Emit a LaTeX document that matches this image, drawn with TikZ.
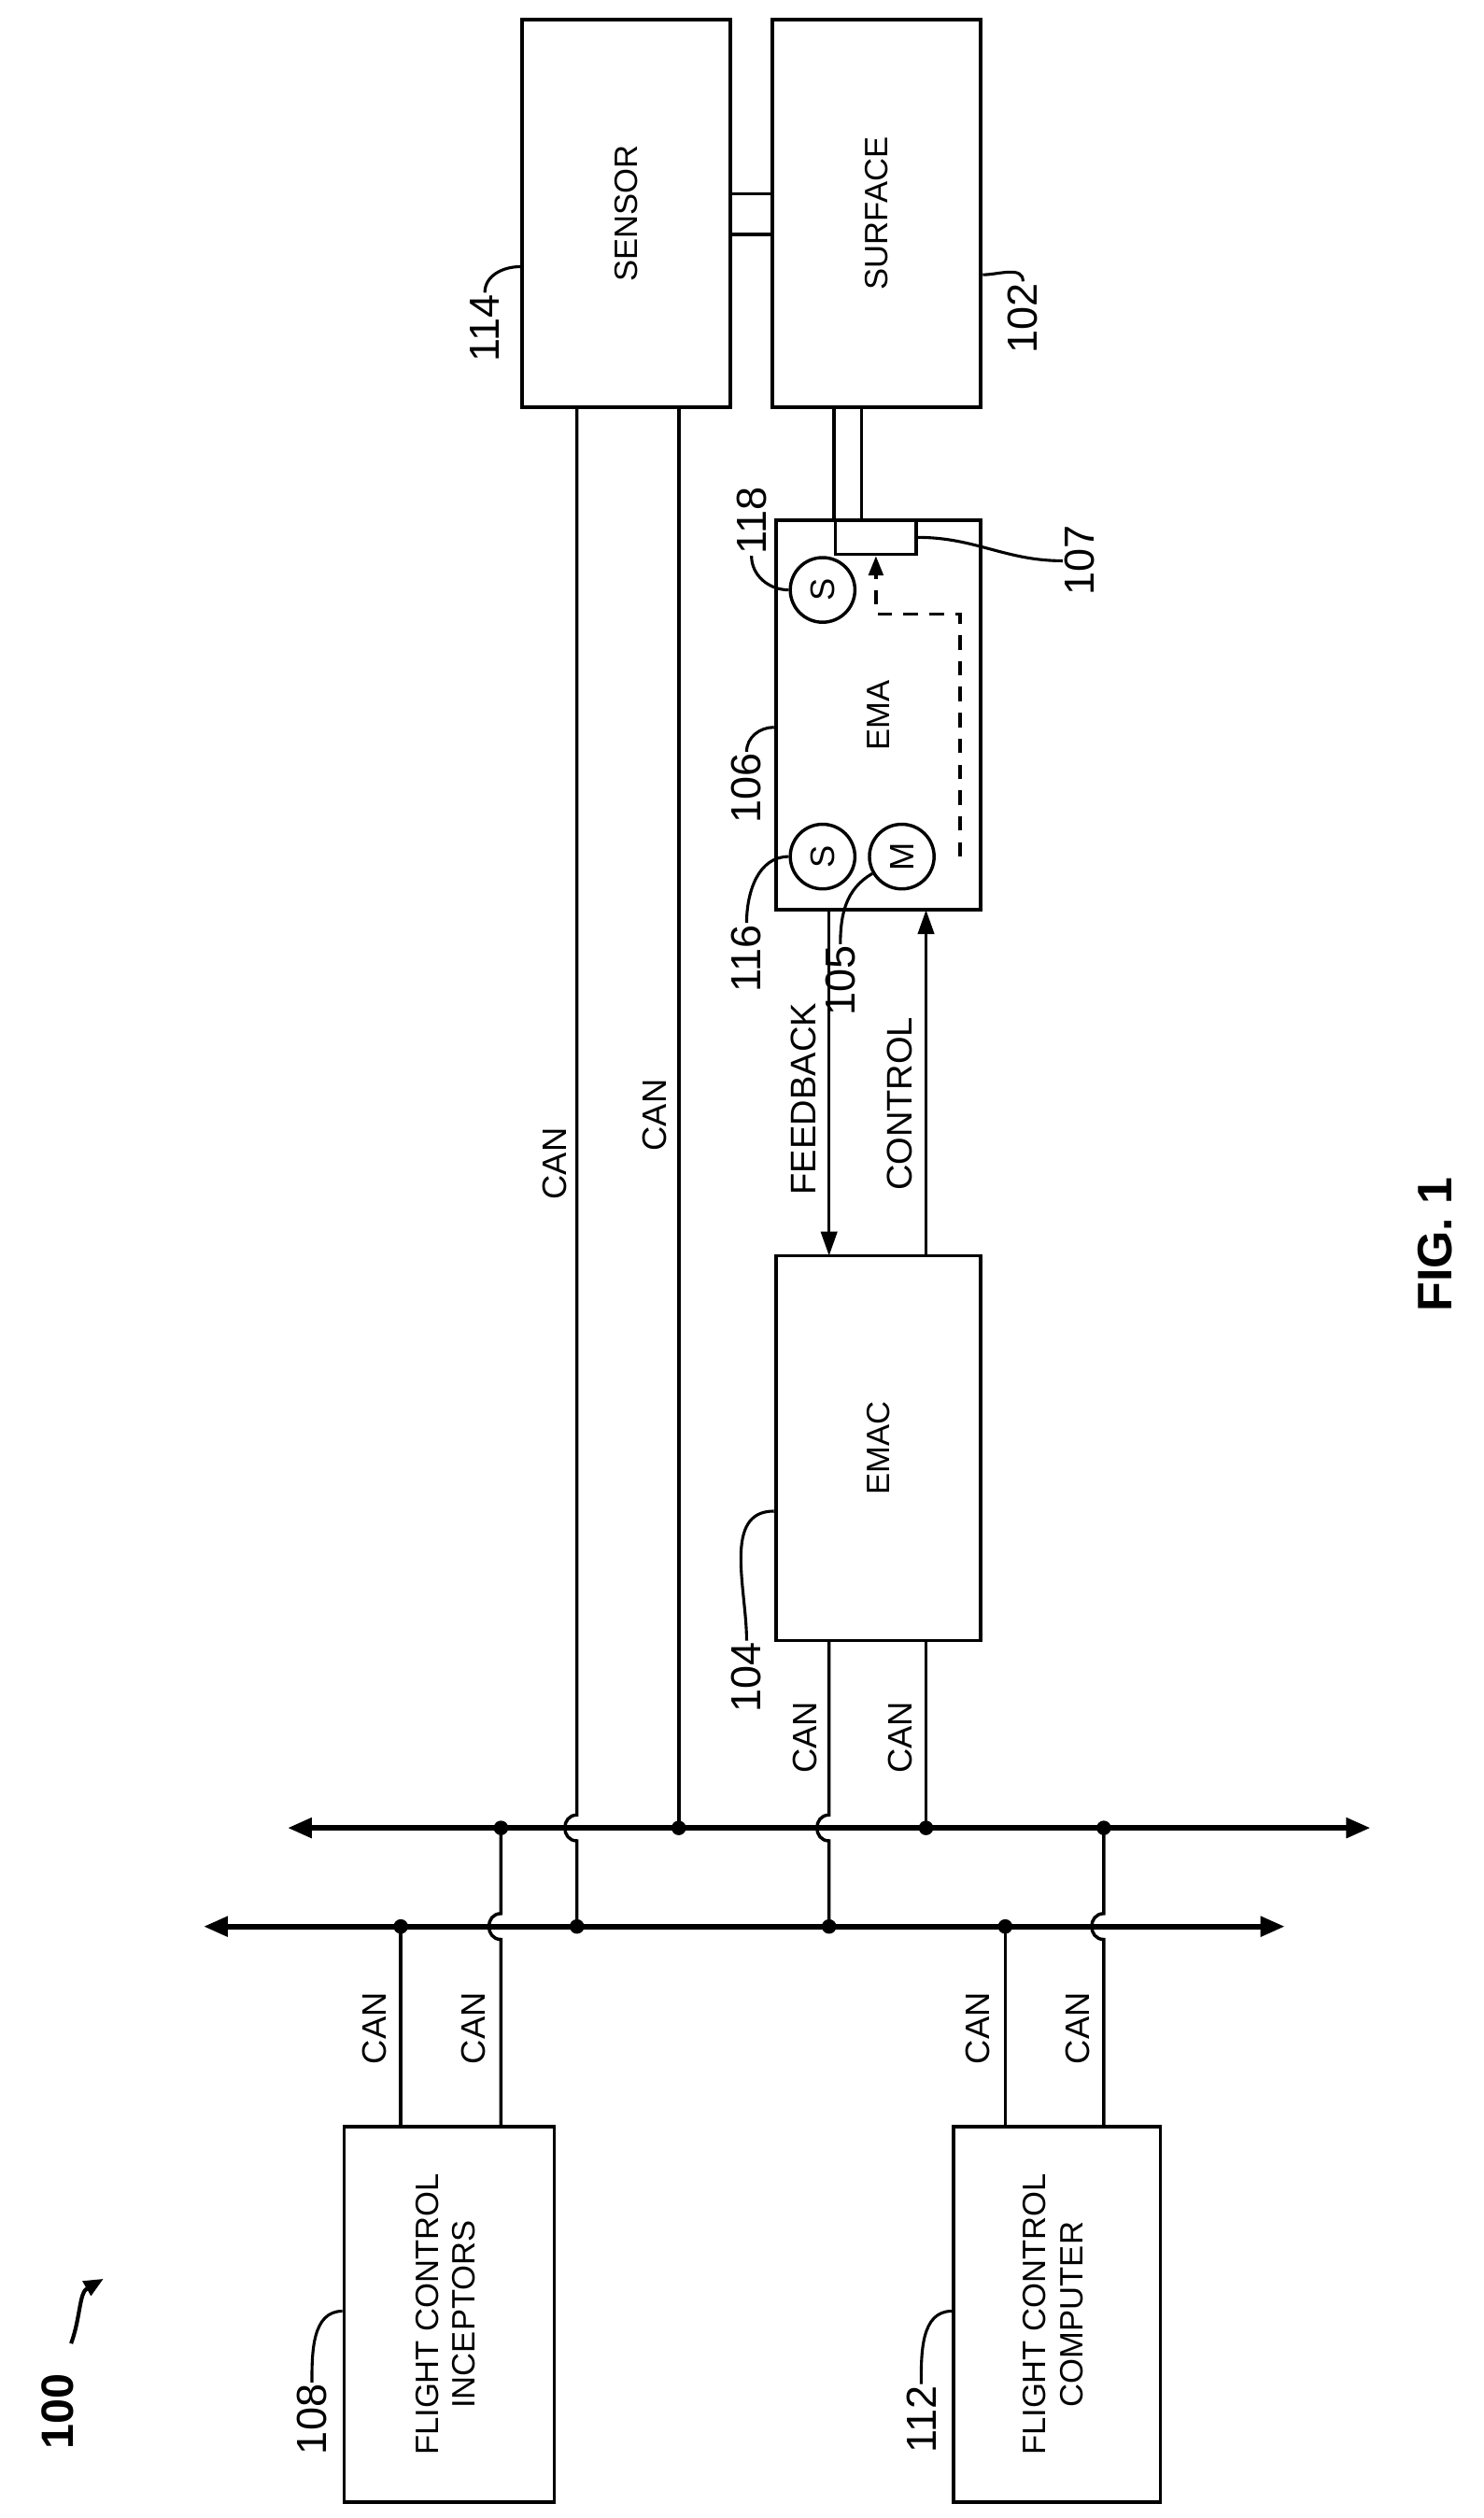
\documentclass[tikz,border=0pt]{standalone}
\usepackage{fontspec}
\setmainfont{Liberation Sans}
\usetikzlibrary{arrows.meta}

\tikzset{
  box/.style={draw,line width=2.2pt,rectangle,inner sep=0pt,font=\fontsize{20}{23}\selectfont},
  sym/.style={draw,line width=2pt,circle,minimum size=40pt,inner sep=0pt,font=\fontsize{21}{24}\selectfont},
  refnum/.style={rotate=90,inner sep=1pt,font=\fontsize{26}{29}\selectfont},
  lbl/.style={rotate=90,inner sep=1pt,font=\fontsize{21}{24}\selectfont},
  wire/.style={line width=2pt},
  lead/.style={line width=1.8pt},
  bus/.style={line width=3.4pt,{Triangle[length=15pt,width=12pt]}-{Triangle[length=15pt,width=12pt]}},
  jdot/.style={circle,fill,inner sep=0pt,minimum size=9pt}
}
\newcommand{\rb}[1]{\rotatebox{90}{#1}}

\begin{document}
\begin{tikzpicture}[x=1pt,y=1pt]
  \useasboundingbox (0,0) rectangle (918,-1558);
  %% boxes
  \node[box,minimum width=129pt,minimum height=240pt] (sensor) at (387.5,-132) {\rb{SENSOR}};
  \node[box,minimum width=129pt,minimum height=240pt] (surface) at (542.5,-132) {\rb{SURFACE}};
  \node[box,minimum width=127pt,minimum height=241pt] (ema) at (543.5,-442.5) {\rb{EMA}};
  \node[box,minimum width=127pt,minimum height=238pt] (emac) at (543.5,-896) {\rb{EMAC}};
  \node[box,minimum width=130pt,minimum height=232pt,align=center] (fci) at (278,-1432) {\rb{\begin{tabular}{c}FLIGHT CONTROL\\INCEPTORS\end{tabular}}};
  \node[box,minimum width=128pt,minimum height=232pt,align=center] (fcc) at (654,-1432) {\rb{\begin{tabular}{c}FLIGHT CONTROL\\COMPUTER\end{tabular}}};
  \node[draw,line width=2pt,minimum width=50pt,minimum height=21pt,inner sep=0pt] (gear) at (542,-332.5) {};
  \node[sym] (s118) at (509,-365) {\rb{S}};
  \node[sym] (s116) at (509,-530) {\rb{S}};
  \node[sym] (m105) at (558,-530) {\rb{M}};

  %% mechanical links
  \draw[wire] (sensor.east |- 0,-120) -- (surface.west |- 0,-120);
  \draw[wire] (sensor.east |- 0,-145) -- (surface.west |- 0,-145);
  \draw[wire] (516,-252) -- (516,-322);
  \draw[wire] (533,-252) -- (533,-322);
  \draw[wire,dashed,dash pattern=on 9pt off 7pt,-{Triangle[length=12pt,width=9pt]}] (594,-530) -| (594,-380) -| (gear.south);

  %% feedback / control
  \draw[wire,-{Triangle[length=15pt,width=10pt]}] (513,-563) -- (513,-777);
  \draw[wire,-{Triangle[length=15pt,width=10pt]}] (573,-777) -- (573,-563);
  \node[lbl,font=\fontsize{22}{25}\selectfont] at (497,-680) {FEEDBACK};
  \node[lbl,font=\fontsize{22}{25}\selectfont] at (557,-683) {CONTROL};

  %% buses
  \coordinate (ubl) at (178,-1131);
  \coordinate (ubr) at (848,-1131);
  \coordinate (lbl) at (126,-1192);
  \coordinate (lbr) at (795,-1192);
  \draw[bus] (ubl) -- (ubr);
  \draw[bus] (lbl) -- (lbr);

  %% drops: dot on one bus, hop over the other
  \foreach \x/\top in {357/-252,513/-1015} {
    \draw[wire] (\x,\top) -- (\x,-1123) .. controls (\x-10,-1123) and (\x-10,-1139) .. (\x,-1139) -- (\x,-1192);
    \node[jdot] at (\x,-1192) {};
  }
  \foreach \x/\top in {420/-252,573/-1015} {
    \draw[wire] (\x,\top) -- (\x,-1131);
    \node[jdot] at (\x,-1131) {};
  }
  \foreach \x in {248,622} {
    \draw[wire] (\x,-1316) -- (\x,-1192);
    \node[jdot] at (\x,-1192) {};
  }
  \foreach \x in {310,683} {
    \draw[wire] (\x,-1316) -- (\x,-1200) .. controls (\x-10,-1200) and (\x-10,-1184) .. (\x,-1184) -- (\x,-1131);
    \node[jdot] at (\x,-1131) {};
  }

  %% CAN labels
  \foreach \x/\y in {343/-720,405/-690,498/-1075,557/-1075,232/-1255,293/-1255,605/-1255,667/-1255}
    \node[lbl] at (\x,\y) {CAN};

  %% reference numerals
  \node[refnum] (n114) at (300,-203) {114};
  \node[refnum] (n102) at (633,-197) {102};
  \node[refnum] (n118) at (465,-322) {118};
  \node[refnum] (n107) at (668,-347) {107};
  \node[refnum] (n106) at (462,-488) {106};
  \node[refnum] (n116) at (462,-593) {116};
  \node[refnum] (n105) at (520,-607) {105};
  \node[refnum] (n104) at (462,-1038) {104};
  \node[refnum] (n108) at (193,-1497) {108};
  \node[refnum] (n112) at (570,-1497) {112};
  \node[refnum,font=\fontsize{28}{31}\selectfont\bfseries] (n100) at (36,-1492) {100};
  \node[rotate=90,font=\fontsize{30}{34}\selectfont\bfseries] (fig) at (888,-770) {FIG. 1};

  \draw[lead] (n114.east) to[out=90,in=180] (sensor.west |- 0,-165);
  \draw[lead] (n102.east) to[out=90,in=0] (surface.east |- 0,-170);
  \draw[lead] (n118.west) to[out=-90,in=180] (s118.west);
  \draw[lead] (gear.east) to[out=0,in=180] (n107.north);
  \draw[lead] (n106.east) to[out=90,in=180] (ema.west |- 0,-450);
  \draw[lead] (n116.east) to[out=90,in=180] (s116.west);
  \draw[lead] (n105.east) to[out=90,in=210] (m105.210);
  \draw[lead] (n104.east) to[out=90,in=180] (emac.west |- 0,-935);
  \draw[lead] (n108.east) to[out=90,in=180] (fci.west |- 0,-1430);
  \draw[lead] (n112.east) to[out=90,in=180] (fcc.west |- 0,-1430);
  \draw[line width=2.4pt,-{Triangle[length=12pt,width=10pt]}] (44,-1450) to[out=70,in=210] (64,-1410);
\end{tikzpicture}
\end{document}
